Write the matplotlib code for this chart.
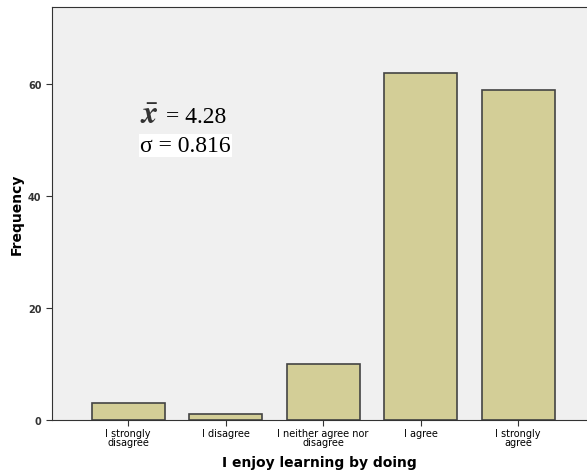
import matplotlib.pyplot as plt
import numpy as np

categories = ['I strongly\ndisagree', 'I disagree', 'I neither agree nor\ndisagree',
              'I agree', 'I strongly\nagree']
counts = [3, 1, 10, 62, 59]
yticks = [0, 20, 40, 60]

plt.rcParams['mathtext.fontset'] = 'stix'

fig = plt.figure(figsize=(5.87, 4.77), dpi=100)
ax = fig.add_axes([0.0886, 0.1174, 0.912, 0.8656])
ax.set_facecolor('#f0f0f0')

x = np.arange(len(categories))
ax.bar(x, counts, width=0.75, color='#d3ce97', edgecolor='#444444', linewidth=1.2)

ax.set_xlim(-0.78, 4.71)
ax.set_ylim(0, 73.75)
ax.set_xticks(x)
ax.set_xticklabels(categories, fontsize=7, linespacing=0.85)
ax.set_yticks(yticks)
ax.tick_params(axis='y', labelsize=7, length=4, color='#333333')
ax.tick_params(axis='x', length=4, color='#333333', pad=2)
for lab in ax.get_yticklabels():
    lab.set_fontweight('bold')
    lab.set_color('#333333')

for s in ['top', 'left', 'bottom']:
    ax.spines[s].set_color('#333333')
ax.spines['right'].set_visible(False)

ax.set_xlabel('I enjoy learning by doing', fontsize=10, fontweight='bold', labelpad=6)
ax.set_ylabel('Frequency', fontsize=10, fontweight='bold', labelpad=3)

ax.text(0.165, 0.74, r'$\bar{\mathbfit{x}}$', transform=ax.transAxes, fontsize=23,
        va='center', ha='left', color='#333333')
ax.text(0.213, 0.735, '= 4.28', transform=ax.transAxes, fontsize=17,
        family='Liberation Serif', va='center', ha='left')
ax.text(0.165, 0.665, 'σ = 0.816', transform=ax.transAxes, fontsize=17,
        family='Liberation Serif', va='center', ha='left',
        bbox=dict(facecolor='white', edgecolor='none', pad=1))

fig.savefig('out.png', dpi=100)
